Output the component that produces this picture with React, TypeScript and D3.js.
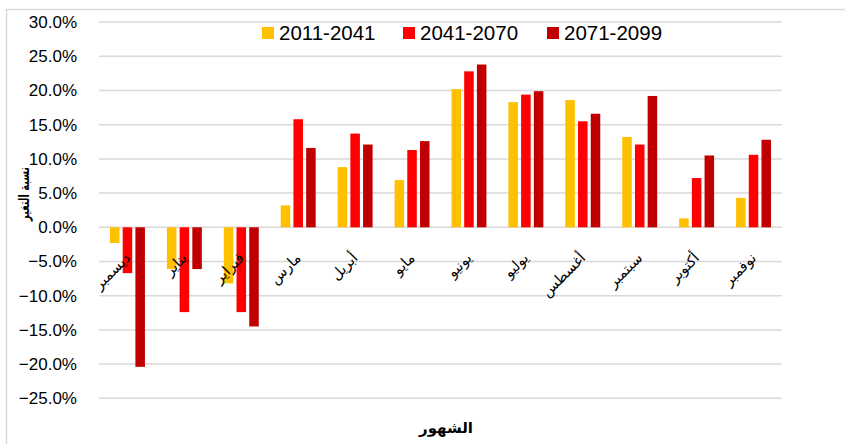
import React from 'react';
import * as d3 from 'd3';

// constants
const width = 845;
const height = 444;
const plot = { left: 99, right: 782, top: 22.1, bottom: 398.3 };

// data (percent change)
const months = ['ديسمبر', 'يناير', 'فبراير', 'مارس', 'أبريل', 'مايو', 'يونيو', 'يوليو', 'أغسطس', 'سبتمبر', 'أكتوبر', 'نوفمبر'];
const seriesNames = ['2011-2041', '2041-2070', '2071-2099'];
const colours = ['#FFC000', '#FF0000', '#C00000'];
const p2011 = [-2.3, -6.1, -8.2, 3.2, 8.8, 6.9, 20.2, 18.3, 18.6, 13.2, 1.3, 4.3];
const p2041 = [-6.7, -12.4, -12.4, 15.8, 13.7, 11.3, 22.8, 19.4, 15.5, 12.1, 7.2, 10.6];
const p2071 = [-20.4, -6.1, -14.5, 11.6, 12.1, 12.6, 23.8, 19.9, 16.6, 19.2, 10.5, 12.8];
const yTicks = [-25, -20, -15, -10, -5, 0, 5, 10, 15, 20, 25, 30];
const yTitle = 'نسبة التغير';
const xTitle = 'الشهور';

const App = () => {
  const series = [p2011, p2041, p2071];

  // scales
  const x0 = d3.scaleBand<string>()
    .domain(months)
    .range([plot.left, plot.right])
    .paddingInner(0.386)
    .paddingOuter(0.193);
  const x1 = d3.scaleBand<string>()
    .domain(seriesNames)
    .range([0, x0.bandwidth()])
    .paddingInner(0.25);
  const y = d3.scaleLinear()
    .domain([-25, 30])
    .range([plot.bottom, plot.top]);
  const fmt = (v: number) => d3.format('.1f')(v) + '%';

  // legend layout
  const legendX = [262, 403, 547];

  return (
    <svg width={width} height={height} style={{ display: 'block', position: 'absolute', left: 0, top: 0 }}>
      <rect x={0} y={0} width={width} height={height} fill="#fff" />
      <rect x={6.5} y={9.5} width={900} height={500} fill="#fff" stroke="#d9d9d9" strokeWidth={1.5} />

      {/* grid + y labels */}
      {yTicks.map(t => (
        <g key={t}>
          <line x1={plot.left} x2={plot.right} y1={y(t)} y2={y(t)} stroke="#d9d9d9" strokeWidth={1.5} />
          <text x={77} y={y(t)} dy="0.35em" textAnchor="end" fontFamily="Liberation Sans, Arial, sans-serif" fontSize={17} fill="#000">
            {fmt(t)}
          </text>
        </g>
      ))}

      {/* bars */}
      {series.map((vals, si) => (
        <g key={seriesNames[si]} fill={colours[si]}>
          {vals.map((v, i) => (
            <rect
              key={months[i]}
              x={(x0(months[i]) ?? 0) + (x1(seriesNames[si]) ?? 0)}
              y={Math.min(y(v), y(0))}
              width={x1.bandwidth()}
              height={Math.abs(y(v) - y(0))}
            />
          ))}
        </g>
      ))}

      {/* category labels */}
      {months.map(m => {
        const cx = (x0(m) ?? 0) + x0.bandwidth() / 2;
        const cy = y(0) + 28;
        return (
          <text key={m} transform={`translate(${cx},${cy}) rotate(-45)`} textAnchor="end" dy="0.35em"
            fontFamily="DejaVu Sans, sans-serif" fontSize={14.5} fill="#000">
            {m}
          </text>
        );
      })}

      {/* legend */}
      {seriesNames.map((s, i) => (
        <g key={s}>
          <rect x={legendX[i]} y={27} width={12} height={12} fill={colours[i]} />
          <text x={legendX[i] + 17} y={39.5} fontFamily="Liberation Sans, Arial, sans-serif" fontSize={20.5} fill="#000">
            {s}
          </text>
        </g>
      ))}

      {/* axis titles */}
      <text transform={`translate(24,194) rotate(-90)`} textAnchor="middle" dy="0.35em"
        fontFamily="DejaVu Sans, sans-serif" fontSize={14} fontWeight="bold" fill="#000"
        textLength={54} lengthAdjust="spacingAndGlyphs">
        {yTitle}
      </text>
      <text x={446} y={433} textAnchor="middle" fontFamily="DejaVu Sans, sans-serif" fontSize={15} fontWeight="bold" fill="#000">
        {xTitle}
      </text>
    </svg>
  );
};

export default App;
